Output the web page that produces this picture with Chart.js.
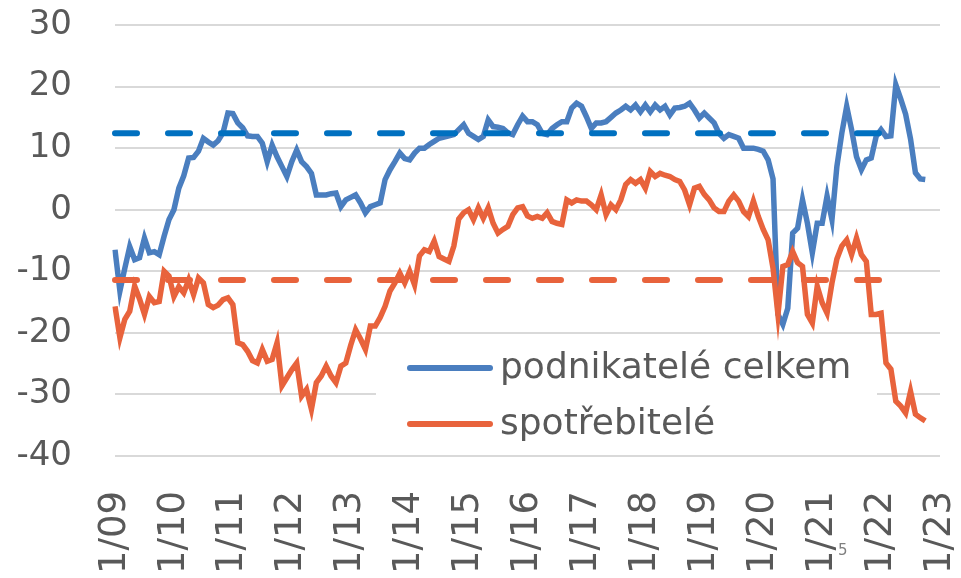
<!DOCTYPE html>
<html lang="cs">
<head>
<meta charset="UTF-8">
<title>Důvěra podnikatelů a spotřebitelů</title>
<script src="https://cdn.jsdelivr.net/npm/chart.js"></script>
<style>
    html, body { margin: 0; padding: 0; background: #fff; }
</style>
</head>
<body>
<canvas id="grafDuvera" width="961" height="578"></canvas>
<script>
    // popisky let na ose x (leden kazdeho roku)
    const roky = ['1/09', '1/10', '1/11', '1/12', '1/13', '1/14', '1/15', '1/16',
        '1/17', '1/18', '1/19', '1/20', '1/21', '1/22', '1/23'];

    // mesicni hodnoty 1/2009 - 10/2022
    const podnikatele = [
        -6.5, -13.2, -9.5, -6.0, -8.1, -7.8, -4.6, -7.0, -6.8, -7.3,
        -4.3, -1.6, 0.0, 3.5, 5.5, 8.4, 8.5, 9.5, 11.6, 11.0,
        10.5, 11.2, 12.5, 15.7, 15.6, 14.1, 13.3, 12.0, 11.9, 11.9,
        10.8, 7.8, 10.5, 8.6, 7.0, 5.4, 7.8, 9.7, 7.8, 7.0,
        5.9, 2.4, 2.4, 2.4, 2.6, 2.7, 0.5, 1.6, 2.0, 2.4,
        1.1, -0.5, 0.5, 0.8, 1.1, 4.9, 6.5, 7.8, 9.2, 8.3,
        8.1, 9.2, 10.0, 10.0, 10.6, 11.1, 11.6, 11.8, 12.0, 12.2,
        13.0, 13.8, 12.4, 11.9, 11.4, 11.9, 14.6, 13.5, 13.4, 13.2,
        12.5, 12.2, 13.8, 15.2, 14.3, 14.3, 13.8, 12.4, 12.2, 13.2,
        13.8, 14.3, 14.3, 16.5, 17.3, 16.8, 15.1, 13.2, 14.1, 14.1,
        14.3, 15.0, 15.7, 16.2, 16.8, 16.2, 17.0, 15.9, 17.0, 15.9,
        17.0, 16.2, 16.8, 15.4, 16.5, 16.6, 16.8, 17.3, 16.2, 14.9,
        15.7, 14.9, 14.1, 12.4, 11.6, 12.2, 11.9, 11.6, 10.0, 10.0,
        10.0, 9.8, 9.5, 8.1, 5.0, -17.0, -18.6, -16.0, -3.8, -3.0,
        1.6, -2.2, -7.0, -2.2, -2.2, 2.2, -1.6, 7.0, 12.4, 16.8,
        13.0, 8.6, 6.5, 8.1, 8.4, 11.9, 13.0, 11.9, 12.0, 20.3,
        18.0, 15.5, 11.5, 6.0, 5.0, 4.9
    ];
    const spotrebitele = [
        -15.7, -20.8, -17.8, -16.5, -12.4, -14.5, -17.0, -14.1, -15.1, -14.9,
        -10.0, -10.8, -14.1, -12.5, -13.5, -11.4, -13.8, -11.1, -11.9, -15.4,
        -15.9, -15.5, -14.6, -14.3, -15.4, -21.6, -21.9, -23.0, -24.5, -24.9,
        -22.7, -24.6, -24.3, -21.6, -28.6, -27.3, -26.0, -24.9, -30.3, -29.2,
        -32.4, -28.1, -27.0, -25.4, -27.0, -28.1, -25.4, -24.9, -22.0, -19.5,
        -21.0, -22.7, -18.9, -18.9, -17.5, -15.7, -13.2, -11.9, -10.3, -11.9,
        -10.0, -12.2, -7.5, -6.5, -6.8, -5.1, -7.6, -8.0, -8.4, -5.9,
        -1.5, -0.5, 0.0, -1.6, 0.3, -1.4, 0.3, -2.2, -3.8, -3.2,
        -2.7, -0.8, 0.3, 0.5, -1.0, -1.4, -1.1, -1.4, -0.5, -1.9,
        -2.2, -2.4, 1.6, 1.1, 1.6, 1.4, 1.4, 0.8, 0.0, 2.4,
        -0.8, 0.8, 0.0, 1.6, 4.1, 4.9, 4.3, 4.9, 3.5, 6.2,
        5.4, 5.9, 5.6, 5.4, 4.9, 4.6, 3.2, 0.8, 3.5, 3.8,
        2.5, 1.6, 0.3, -0.3, -0.3, 1.4, 2.4, 1.4, -0.3, -1.1,
        1.4, -1.1, -3.2, -4.9, -9.5, -17.0, -9.2, -8.9, -6.8, -8.6,
        -9.2, -17.0, -18.4, -12.4, -15.1, -16.8, -11.9, -8.0, -5.9, -4.9,
        -7.3, -4.6, -7.3, -8.4, -17.0, -17.0, -16.8, -24.9, -25.9, -31.1,
        -31.9, -33.0, -29.5, -33.2, -33.8, -34.3
    ];

    // dlouhodobe prumery (carkovane linie), kresleny do 4/2022
    const prumerPodnikatele = 12.4;
    const prumerSpotrebitele = -11.4;
    const prumerDo = '4/22';

    const popisky = ['podnikatelé celkem', 'spotřebitelé'];

    // vsechny mesice 1/09 .. 1/23
    const mesice = [];
    for (let r = 9; r <= 23; r++) {
        for (let m = 1; m <= 12; m++) {
            if (r === 23 && m > 1) break;
            mesice.push(m + '/' + String(r).padStart(2, '0'));
        }
    }

    function doplnit(hodnoty) {
        return mesice.map((_, i) => i < hodnoty.length ? hodnoty[i] : null);
    }
    function prumer(h) {
        const konec = mesice.indexOf(prumerDo);
        return mesice.map((_, i) => i <= konec ? h : null);
    }

    const modra = '#4a7ebf';
    const modraCar = '#0070c0';
    const oranzova = '#e8633c';
    const sedaText = '#595959';
    const pismo = 'DejaVu Sans';

    // legenda uvnitr grafu (bile pozadi prekryva mrizku)
    const legendaUvnitr = {
        id: 'legendaUvnitr',
        beforeDatasetsDraw(chart) {
            const ctx = chart.ctx;
            ctx.save();
            ctx.fillStyle = '#ffffff';
            ctx.fillRect(376, 338, 501, 114);
            const polozky = [
                { ds: chart.data.datasets[0], y: 368 },
                { ds: chart.data.datasets[1], y: 424 }
            ];
            polozky.forEach(p => {
                ctx.strokeStyle = p.ds.borderColor;
                ctx.lineWidth = 6;
                ctx.lineCap = 'round';
                ctx.beginPath();
                ctx.moveTo(410, p.y);
                ctx.lineTo(490, p.y);
                ctx.stroke();
                ctx.fillStyle = sedaText;
                ctx.font = '36px "' + pismo + '"';
                ctx.textAlign = 'left';
                ctx.textBaseline = 'middle';
                ctx.fillText(p.ds.label, 500, p.y + 1);
            });
            ctx.restore();
        },
        afterDraw(chart) {
            // cislo strany vpravo dole
            const ctx = chart.ctx;
            ctx.save();
            ctx.fillStyle = '#7f7f7f';
            ctx.font = '15px "' + pismo + '"';
            ctx.textAlign = 'left';
            ctx.textBaseline = 'middle';
            ctx.fillText('5', 838, 551);
            ctx.restore();
        }
    };

    // bez automatickych okraju od popisku - okraje urcuje layout.padding
    function bezOkraju(s) {
        s.paddingTop = 0;
        s.paddingBottom = 0;
        s.paddingLeft = 0;
        s.paddingRight = 0;
    }

    const ctx = document.getElementById('grafDuvera').getContext('2d');
    window.grafDuvera = new Chart(ctx, {
        type: 'line',
        data: {
            labels: mesice,
            datasets: [
                {
                    label: popisky[0],
                    data: doplnit(podnikatele),
                    borderColor: modra,
                    borderWidth: 5.5,
                    pointRadius: 0,
                    tension: 0,
                    order: 4
                },
                {
                    label: popisky[1],
                    data: doplnit(spotrebitele),
                    borderColor: oranzova,
                    borderWidth: 5.5,
                    pointRadius: 0,
                    tension: 0,
                    order: 3
                },
                {
                    label: 'průměr podnikatelé',
                    data: prumer(prumerPodnikatele),
                    borderColor: modraCar,
                    borderWidth: 6,
                    borderDash: [22, 31],
                    borderCapStyle: 'round',
                    pointRadius: 0,
                    order: 2
                },
                {
                    label: 'průměr spotřebitelé',
                    data: prumer(prumerSpotrebitele),
                    borderColor: oranzova,
                    borderWidth: 6,
                    borderDash: [22, 31],
                    borderCapStyle: 'round',
                    pointRadius: 0,
                    order: 1
                }
            ]
        },
        options: {
            responsive: false,
            animation: false,
            layout: { padding: { top: 25, right: 21, left: 0, bottom: 0 } },
            plugins: {
                legend: { display: false },
                tooltip: { enabled: false }
            },
            scales: {
                x: {
                    offset: false,
                    grid: { display: false },
                    border: { display: false },
                    ticks: {
                        autoSkip: false,
                        maxRotation: 90,
                        minRotation: 90,
                        padding: 27,
                        color: sedaText,
                        font: { family: pismo, size: 37 },
                        callback: function (val, i) {
                            const l = mesice[i];
                            return roky.includes(l) ? l : '';
                        }
                    },
                    afterFit: s => { s.height = 122; bezOkraju(s); }
                },
                y: {
                    min: -40,
                    max: 30,
                    grid: { color: '#d9d9d9', lineWidth: 2, drawTicks: false },
                    border: { display: false },
                    ticks: {
                        stepSize: 10,
                        padding: 43,
                        color: sedaText,
                        font: { family: pismo, size: 34 }
                    },
                    afterFit: s => { s.width = 115; bezOkraju(s); }
                }
            }
        },
        plugins: [legendaUvnitr]
    });
</script>
</body>
</html>
